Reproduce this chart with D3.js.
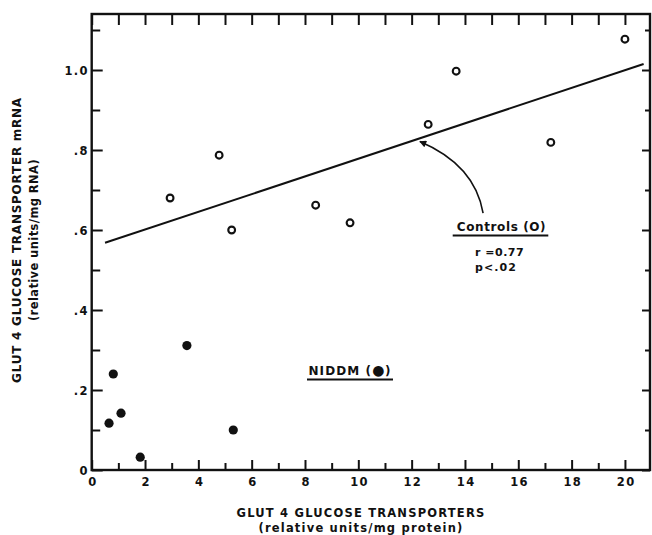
<!DOCTYPE html>
<html>
<head>
<meta charset="utf-8">
<script src="https://cdn.jsdelivr.net/npm/d3@7"></script>
<style>
  html, body { margin: 0; padding: 0; background: #fff; }
  svg { display: block; }
  text { font-family: "DejaVu Sans", "Liberation Sans", Arial, sans-serif; font-weight: bold; fill: #111; }
</style>
</head>
<body>
<svg id="chart" width="652" height="535"></svg>
<script>
// ---- data ----
const controlsX = [2.94, 4.78, 5.25, 8.40, 9.69, 12.62, 13.67, 17.22, 20.0];
const controlsY = [0.680, 0.787, 0.600, 0.662, 0.618, 0.864, 0.997, 0.819, 1.077];
const niddmX = [0.65, 0.81, 1.10, 1.82, 3.57, 5.31];
const niddmY = [0.117, 0.240, 0.142, 0.032, 0.311, 0.100];
const fitLineX = [0.5, 20.7];
const fitLineY = [0.568, 1.015];
const xMajorTicks = [0, 2, 4, 6, 8, 10, 12, 14, 16, 18, 20];
const xMinorTicks = [1, 3, 5, 7, 9, 11, 13, 15, 17, 19];
const yMajorTicks = [0, 0.2, 0.4, 0.6, 0.8, 1.0];
const yMajorLabels = ["0", ".2", ".4", ".6", ".8", "1.0"];
const yMinorTicks = [0.1, 0.3, 0.5, 0.7, 0.9, 1.1];
const xTitle = ["GLUT 4 GLUCOSE TRANSPORTERS", "(relative units/mg protein)"];
const yTitle = ["GLUT 4 GLUCOSE TRANSPORTER mRNA", "(relative units/mg RNA)"];

// ---- layout ----
const svg = d3.select("#chart");
const x = d3.scaleLinear().domain([0, 20.94]).range([91.7, 650]);
const y = d3.scaleLinear().domain([0, 1.14]).range([470, 14]);
const X0 = x.range()[0], X1 = x.range()[1], Y0 = y.range()[0], Y1 = y.range()[1];
const ink = "#111";
const FONT = "DejaVu Sans, Liberation Sans, Arial, sans-serif";

const tickStyle = g => {
  g.select(".domain").remove();
  g.selectAll("line").attr("stroke", ink).attr("stroke-width", 2);
};
const labelStyle = (g, size, ls) => g.selectAll("text")
  .attr("font-size", size).attr("letter-spacing", ls)
  .attr("font-family", FONT).attr("font-weight", "bold").attr("fill", ink);

// bottom axis
svg.append("g").attr("transform", `translate(0,${Y0})`)
  .call(d3.axisBottom(x).tickValues(xMajorTicks).tickSize(-10).tickFormat(d3.format("d")))
  .call(tickStyle)
  .call(g => labelStyle(g, 11.5, 1.3).attr("y", 15.5).attr("dy", 0).attr("dx", 0.7));
svg.append("g").attr("transform", `translate(0,${Y0})`)
  .call(d3.axisBottom(x).tickValues(xMinorTicks).tickSize(-7).tickFormat(""))
  .call(tickStyle);

// top axis (all ticks same length, no labels)
svg.append("g").attr("transform", `translate(0,${Y1})`)
  .call(d3.axisTop(x).tickValues(xMajorTicks.concat(xMinorTicks)).tickSize(-11).tickFormat(""))
  .call(tickStyle);

// left axis
svg.append("g").attr("transform", `translate(${X0},0)`)
  .call(d3.axisLeft(y).tickValues(yMajorTicks).tickSize(-11)
     .tickFormat((d, i) => yMajorLabels[i]))
  .call(tickStyle)
  .call(g => labelStyle(g, 11.5, 1.3).attr("text-anchor", "end").attr("x", -3)
     .attr("dy", d => d === 0 ? "0.42em" : "0.36em"));
svg.append("g").attr("transform", `translate(${X0},0)`)
  .call(d3.axisLeft(y).tickValues(yMinorTicks).tickSize(-8.5).tickFormat(""))
  .call(tickStyle);

// right axis
svg.append("g").attr("transform", `translate(${X1},0)`)
  .call(d3.axisRight(y).tickValues(yMajorTicks).tickSize(-8).tickFormat(""))
  .call(tickStyle);
svg.append("g").attr("transform", `translate(${X1},0)`)
  .call(d3.axisRight(y).tickValues(yMinorTicks).tickSize(-5).tickFormat(""))
  .call(tickStyle);

// frame
svg.append("rect")
  .attr("x", X0).attr("y", Y1).attr("width", X1 - X0).attr("height", Y0 - Y1)
  .attr("fill", "none").attr("stroke", ink).attr("stroke-width", 2.4);

// regression line
const fitData = fitLineX.map((d, i) => [d, fitLineY[i]]);
svg.append("path")
  .datum(fitData)
  .attr("d", d3.line().x(d => x(d[0])).y(d => y(d[1])))
  .attr("fill", "none").attr("stroke", ink).attr("stroke-width", 2);

// controls: open circles
svg.append("g").selectAll("circle")
  .data(controlsX.map((d, i) => [d, controlsY[i]]))
  .join("circle")
  .attr("cx", d => x(d[0])).attr("cy", d => y(d[1])).attr("r", 3.4)
  .attr("fill", "#fff").attr("stroke", ink).attr("stroke-width", 2.1);

// NIDDM: filled circles
svg.append("g").selectAll("circle")
  .data(niddmX.map((d, i) => [d, niddmY[i]]))
  .join("circle")
  .attr("cx", d => x(d[0])).attr("cy", d => y(d[1])).attr("r", 4.6)
  .attr("fill", ink);

// arrow annotation
svg.append("defs").append("marker")
  .attr("id", "ah").attr("viewBox", "0 0 10 10").attr("refX", 9).attr("refY", 5)
  .attr("markerWidth", 9).attr("markerHeight", 7).attr("markerUnits", "userSpaceOnUse")
  .attr("orient", "auto")
  .append("path").attr("d", "M0,0 L10,5 L0,10 Z").attr("fill", ink);
const pStart = [x(14.68), y(0.642)], pCtrl = [x(14.37), y(0.7625)], pEnd = [x(12.31), y(0.821)];
svg.append("path")
  .attr("d", `M${pStart[0]},${pStart[1]} Q${pCtrl[0]},${pCtrl[1]} ${pEnd[0]},${pEnd[1]}`)
  .attr("fill", "none").attr("stroke", ink).attr("stroke-width", 1.6)
  .attr("marker-end", "url(#ah)");

// Controls label
svg.append("text").attr("x", x(15.37)).attr("y", 231).attr("text-anchor", "middle")
  .attr("font-size", 12).attr("letter-spacing", 0.6).text("Controls (O)");
svg.append("line").attr("x1", 452.7).attr("x2", 548.3).attr("y1", 235.5).attr("y2", 235.5)
  .attr("stroke", ink).attr("stroke-width", 1.8);
svg.append("text").attr("x", 475).attr("y", 255.5).attr("text-anchor", "start")
  .attr("font-size", 11).attr("letter-spacing", 0.5).text("r =0.77");
svg.append("text").attr("x", 475).attr("y", 270.5).attr("text-anchor", "start")
  .attr("font-size", 11).attr("letter-spacing", 1.1).text("p<.02");

// NIDDM label
const nt = svg.append("text").attr("x", x(9.69)).attr("y", 375).attr("text-anchor", "middle")
  .attr("font-size", 12).attr("letter-spacing", 1.1);
nt.append("tspan").text("NIDDM (");
nt.append("tspan").attr("font-size", 14).attr("letter-spacing", 0.6).text("●");
nt.append("tspan").text(")");
svg.append("line").attr("x1", 307).attr("x2", 393).attr("y1", 379.5).attr("y2", 379.5)
  .attr("stroke", ink).attr("stroke-width", 1.8);

// axis titles
const xt = svg.append("text").attr("text-anchor", "middle").attr("font-size", 11.5).attr("letter-spacing", 1.2);
xt.append("tspan").attr("x", 361).attr("y", 517.3).text(xTitle[0]);
xt.append("tspan").attr("x", 361).attr("y", 532).text(xTitle[1]);

const yt = svg.append("g").attr("transform", "translate(0,240) rotate(-90)");
yt.append("text").attr("text-anchor", "middle").attr("font-size", 12).attr("letter-spacing", 0.75)
  .attr("x", 0).attr("y", 21).text(yTitle[0]);
yt.append("text").attr("text-anchor", "middle").attr("font-size", 11.5).attr("letter-spacing", 0.4)
  .attr("x", 0).attr("y", 38.3).text(yTitle[1]);
</script>
</body>
</html>
